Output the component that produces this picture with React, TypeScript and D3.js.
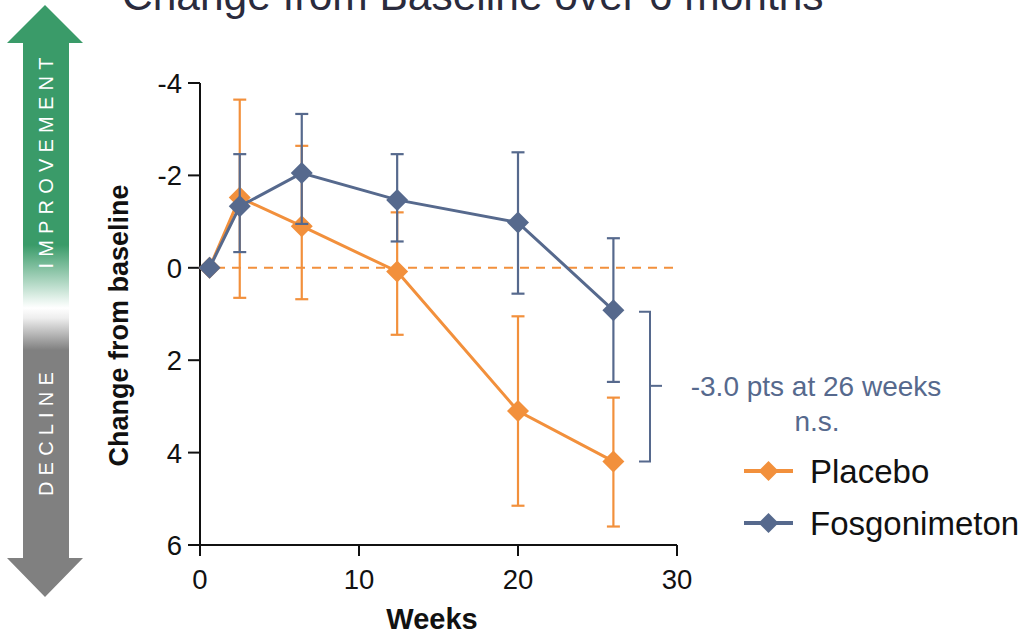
import React from "react";
import * as d3 from "d3";

const weeks = [0.6, 2.5, 6.4, 12.4, 20, 26];
const placeboMean = [0, -1.52, -0.9, 0.08, 3.1, 4.19];
const placeboLow = [null, -3.64, -2.64, -1.2, 1.05, 2.81];
const placeboHigh = [null, 0.65, 0.68, 1.45, 5.15, 5.6];
const fosMean = [0, -1.33, -2.05, -1.47, -0.98, 0.92];
const fosLow = [null, -2.46, -3.33, -2.46, -2.5, -0.64];
const fosHigh = [null, -0.34, -0.95, -0.57, 0.56, 2.47];
const yTicks = [-4, -2, 0, 2, 4, 6];
const xTicks = [0, 10, 20, 30];
const seriesNames = ["Placebo", "Fosgonimeton"];
const annotation = ["-3.0 pts at 26 weeks", "n.s."];

const ORANGE = "#f2903c";
const BLUE = "#56698d";
const FONT = "'Liberation Sans', Arial, sans-serif";

export default function App() {
  const x = d3.scaleLinear().domain([0, 30]).range([200, 677]);
  const y = d3.scaleLinear().domain([-4, 6]).range([83, 545]);
  const line = d3
    .line<number>()
    .x((_, i) => x(weeks[i]))
    .y((d) => y(d));

  const diamond = (cx: number, cy: number, r: number) =>
    `M${cx},${cy - r}L${cx + r},${cy}L${cx},${cy + r}L${cx - r},${cy}Z`;

  const series = [
    { name: seriesNames[0], color: ORANGE, mean: placeboMean, low: placeboLow, high: placeboHigh },
    { name: seriesNames[1], color: BLUE, mean: fosMean, low: fosLow, high: fosHigh },
  ];

  const capW = 6.5;
  const i26 = weeks.length - 1;
  const bTop = y(fosMean[i26]);
  const bBot = y(placeboMean[i26]);
  const bx = 650;

  return (
    <svg width={1025} height={634} style={{ display: "block", position: "absolute", left: 0, top: 0 }} fontFamily={FONT}>
      <defs>
        <linearGradient id="arrowGrad" x1="0" y1="5" x2="0" y2="597" gradientUnits="userSpaceOnUse">
          <stop offset={0} stopColor="#3a9b69" />
          <stop offset={(245 - 5) / 592} stopColor="#3a9b69" />
          <stop offset={(300 - 5) / 592} stopColor="#e8f4ee" />
          <stop offset={(308 - 5) / 592} stopColor="#ffffff" />
          <stop offset={(318 - 5) / 592} stopColor="#eeeeee" />
          <stop offset={(350 - 5) / 592} stopColor="#808080" />
          <stop offset={1} stopColor="#808080" />
        </linearGradient>
      </defs>
      <rect width={1025} height={634} fill="#fff" />

      {/* improvement / decline arrow */}
      <path
        d="M45,5 L83,43 L69,43 L69,558 L83,558 L45,597 L7,558 L23,558 L23,43 L7,43 Z"
        fill="url(#arrowGrad)"
      />
      <text
        transform="translate(53,160) rotate(-90)"
        textAnchor="middle"
        fill="#fff"
        fontSize={20}
        letterSpacing={6.2}
      >
        IMPROVEMENT
      </text>
      <text
        transform="translate(53,431) rotate(-90)"
        textAnchor="middle"
        fill="#fff"
        fontSize={20}
        letterSpacing={6.2}
      >
        DECLINE
      </text>

      {/* title */}
      <text x={122} y={10} fontSize={42.5} fill="#2a2b3d">
        Change from Baseline over 6 months
      </text>

      {/* zero reference */}
      <line x1={x(0)} x2={x(30)} y1={y(0)} y2={y(0)} stroke={ORANGE} strokeWidth={2} strokeDasharray="9,7" />

      {/* axes */}
      <g stroke="#111" strokeWidth={2} fill="none">
        <line x1={x(0)} x2={x(0)} y1={y(-4)} y2={y(6)} />
        <line x1={x(0)} x2={x(30)} y1={y(6)} y2={y(6)} />
        {yTicks.map((t) => (
          <line key={"yt" + t} x1={x(0) - 12} x2={x(0)} y1={y(t)} y2={y(t)} />
        ))}
        {xTicks.map((t) => (
          <line key={"xt" + t} x1={x(t)} x2={x(t)} y1={y(6)} y2={y(6) + 11} />
        ))}
      </g>
      {yTicks.map((t) => (
        <text key={"yl" + t} x={182} y={y(t) + 10} textAnchor="end" fontSize={27.5} fill="#111">
          {t < 0 ? "-" + Math.abs(t) : String(t)}
        </text>
      ))}
      {xTicks.map((t) => (
        <text key={"xl" + t} x={x(t)} y={589} textAnchor="middle" fontSize={27.5} fill="#111">
          {t}
        </text>
      ))}
      <text x={432} y={629} textAnchor="middle" fontSize={29} fontWeight="bold" fill="#111">
        Weeks
      </text>
      <text
        transform={`translate(128,${y(1.25)}) rotate(-90)`}
        textAnchor="middle"
        fontSize={27}
        fontWeight="bold"
        fill="#111"
      >
        Change from baseline
      </text>

      {/* series */}
      {series.map((s) => (
        <g key={s.name}>
          {s.mean.map((m, i) =>
            s.low[i] == null ? null : (
              <g key={i} stroke={s.color} strokeWidth={2.2}>
                <line x1={x(weeks[i])} x2={x(weeks[i])} y1={y(s.low[i] as number)} y2={y(s.high[i] as number)} />
                <line x1={x(weeks[i]) - capW} x2={x(weeks[i]) + capW} y1={y(s.low[i] as number)} y2={y(s.low[i] as number)} />
                <line x1={x(weeks[i]) - capW} x2={x(weeks[i]) + capW} y1={y(s.high[i] as number)} y2={y(s.high[i] as number)} />
              </g>
            )
          )}
          <path d={line(s.mean) || ""} fill="none" stroke={s.color} strokeWidth={3} />
          {s.mean.map((m, i) => (
            <path key={"d" + i} d={diamond(x(weeks[i]), y(m), 11)} fill={s.color} />
          ))}
        </g>
      ))}

      {/* bracket */}
      <g stroke={BLUE} strokeWidth={2} fill="none">
        <path d={`M${bx - 11},${bTop + 1.5} L${bx},${bTop + 1.5} L${bx},${bBot} L${bx - 11},${bBot}`} />
        <line x1={bx} x2={bx + 12} y1={(bTop + bBot) / 2} y2={(bTop + bBot) / 2} />
      </g>
      <text x={816} y={396} textAnchor="middle" fontSize={28} fill={BLUE}>
        {annotation[0]}
      </text>
      <text x={817} y={431} textAnchor="middle" fontSize={28} fill={BLUE}>
        {annotation[1]}
      </text>

      {/* legend */}
      {series.map((s, i) => {
        const ly = 471 + i * 52;
        return (
          <g key={"lg" + s.name}>
            <line x1={744} x2={793} y1={ly} y2={ly} stroke={s.color} strokeWidth={4} />
            <path d={diamond(768.5, ly, 10)} fill={s.color} />
            <text x={810} y={ly + 12} fontSize={33} fill="#111">
              {s.name}
            </text>
          </g>
        );
      })}
    </svg>
  );
}
